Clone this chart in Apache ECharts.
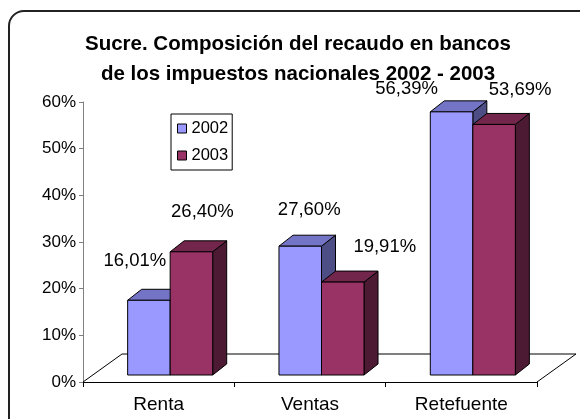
<!DOCTYPE html>
<html>
<head>
<meta charset="utf-8">
<script src="https://cdn.jsdelivr.net/npm/echarts@6/dist/echarts.min.js"></script>
<style>
  html, body { margin: 0; padding: 0; background: #fff; }
  #chart { width: 580px; height: 419px; }
</style>
</head>
<body>
<div id="chart"></div>
<script>
// Impuestos nacionales recaudados en bancos, Sucre (participación %)
const categories = ['Renta', 'Ventas', 'Retefuente'];
const years = ['2002', '2003'];
const values2002 = [16.01, 27.60, 56.39];
const values2003 = [26.40, 19.91, 53.69];
const yTicks = [0, 10, 20, 30, 40, 50, 60];

// Where each value label sits relative to the top-front centre of its bar (px)
const labelNudge2002 = [[-14, -39], [9, -36], [-45, -23]];
const labelNudge2003 = [[11, -40], [42, -35], [26, -35]];

const FONT = '"Liberation Sans", Arial, sans-serif';

// Pseudo-3D geometry of the column block
const FLOOR_DX = 39, FLOOR_DY = 28;   // depth of the floor plate
const BAR_DX = 14, BAR_DY = 11;       // depth of each column
const BAR_LIFT = 7;                   // columns stand slightly behind the front edge
const BAR_SHIFT = 11.5;               // matching horizontal shift
const BAR_FRAC = 0.281;               // column width as a share of the category band

const faces = [
  { front: '#9999FF', top: '#7474C6', side: '#4E4E86' },
  { front: '#993366', top: '#73264C', side: '#4D1A33' }
];

const fmt = v => v.toFixed(2).replace('.', ',') + '%';

function barRenderer(idx, nudges) {
  return function (params, api) {
    const cat = api.value(0);
    const v = api.value(1);
    const base = api.coord([cat, 0]);
    const top = api.coord([cat, v]);
    const band = api.size([1, 0])[0];
    const w = band * BAR_FRAC;
    const xl = base[0] + BAR_SHIFT + (idx === 0 ? -w : 0);
    const xr = xl + w;
    const yb = base[1] - BAR_LIFT;
    const yt = top[1] - BAR_LIFT;
    const c = faces[idx];
    const line = { stroke: '#000', lineWidth: 1 };
    const n = nudges[params.dataIndex];
    return {
      type: 'group',
      children: [
        { type: 'polygon', shape: { points: [[xr, yt], [xr + BAR_DX, yt - BAR_DY], [xr + BAR_DX, yb - BAR_DY], [xr, yb]] },
          style: Object.assign({ fill: c.side }, line) },
        { type: 'polygon', shape: { points: [[xl, yt], [xl + BAR_DX, yt - BAR_DY], [xr + BAR_DX, yt - BAR_DY], [xr, yt]] },
          style: Object.assign({ fill: c.top }, line) },
        { type: 'rect', shape: { x: xl, y: yt, width: w, height: yb - yt },
          style: Object.assign({ fill: c.front }, line) },
        { type: 'text', x: (xl + xr) / 2 + n[0], y: yt + n[1],
          style: { text: fmt(v), fill: '#000', font: '18.5px ' + FONT, align: 'center', verticalAlign: 'middle' } }
      ]
    };
  };
}

// Floor plate outline under the columns
function floorRenderer(params, api) {
  const band = api.size([1, 0])[0];
  const p0 = api.coord([0, 0]);
  const p1 = api.coord([categories.length - 1, 0]);
  const x0 = p0[0] - band / 2;
  const x1 = p1[0] + band / 2;
  const y0 = p0[1];
  return {
    type: 'polyline',
    shape: { points: [[x0, y0], [x0 + FLOOR_DX, y0 - FLOOR_DY], [x1 + FLOOR_DX, y0 - FLOOR_DY], [x1, y0]] },
    style: { stroke: '#000', lineWidth: 1, fill: null }
  };
}

const chart = echarts.init(document.getElementById('chart'), null, { renderer: 'canvas' });

chart.setOption({
  animation: false,
  backgroundColor: '#fff',
  title: {
    text: 'Sucre. Composición del recaudo en bancos\nde los impuestos nacionales 2002 - 2003',
    left: 298,
    top: 29,
    textAlign: 'center',
    padding: 0,
    textStyle: { fontFamily: FONT, fontSize: 20.5, fontWeight: 'bold', color: '#000', lineHeight: 30 }
  },
  // Chart-area frame: rounded top-left corner, runs off the right and bottom edges
  graphic: [{
    type: 'rect',
    shape: { x: 9, y: 11, width: 640, height: 480, r: 15 },
    style: { fill: null, stroke: '#222', lineWidth: 2 },
    z: -1
  }],
  legend: {
    orient: 'vertical',
    left: 171,
    top: 114,
    padding: [6, 4, 6, 6],
    itemGap: 10,
    itemWidth: 9,
    itemHeight: 9,
    icon: 'rect',
    borderColor: '#000',
    borderWidth: 1,
    data: years,
    itemStyle: { borderColor: '#000', borderWidth: 1 },
    textStyle: { fontFamily: FONT, fontSize: 16.5, color: '#000' }
  },
  grid: { left: 83, right: 43, top: 102, bottom: 37 },
  xAxis: {
    type: 'category',
    data: categories,
    boundaryGap: true,
    axisLine: { lineStyle: { color: '#000', width: 1 } },
    axisTick: { show: true, length: 5, lineStyle: { color: '#000' } },
    axisLabel: { margin: 13, fontFamily: FONT, fontSize: 19, color: '#000' },
    splitLine: { show: false }
  },
  yAxis: {
    type: 'value',
    min: yTicks[0],
    max: yTicks[yTicks.length - 1],
    interval: yTicks[1] - yTicks[0],
    axisLine: { show: true, lineStyle: { color: '#808080', width: 1 } },
    axisTick: { show: true, length: 4, lineStyle: { color: '#808080' } },
    axisLabel: { margin: 7, fontFamily: FONT, fontSize: 17, color: '#000', formatter: '{value}%' },
    splitLine: { show: false }
  },
  series: [
    {
      name: 'floor',
      type: 'custom',
      renderItem: floorRenderer,
      data: [[0, 0]],
      z: 1,
      silent: true
    },
    {
      name: years[0],
      type: 'custom',
      renderItem: barRenderer(0, labelNudge2002),
      itemStyle: { color: faces[0].front },
      data: values2002.map((v, i) => [i, v]),
      z: 2
    },
    {
      name: years[1],
      type: 'custom',
      renderItem: barRenderer(1, labelNudge2003),
      itemStyle: { color: faces[1].front },
      data: values2003.map((v, i) => [i, v]),
      z: 3
    }
  ]
});
</script>
</body>
</html>
